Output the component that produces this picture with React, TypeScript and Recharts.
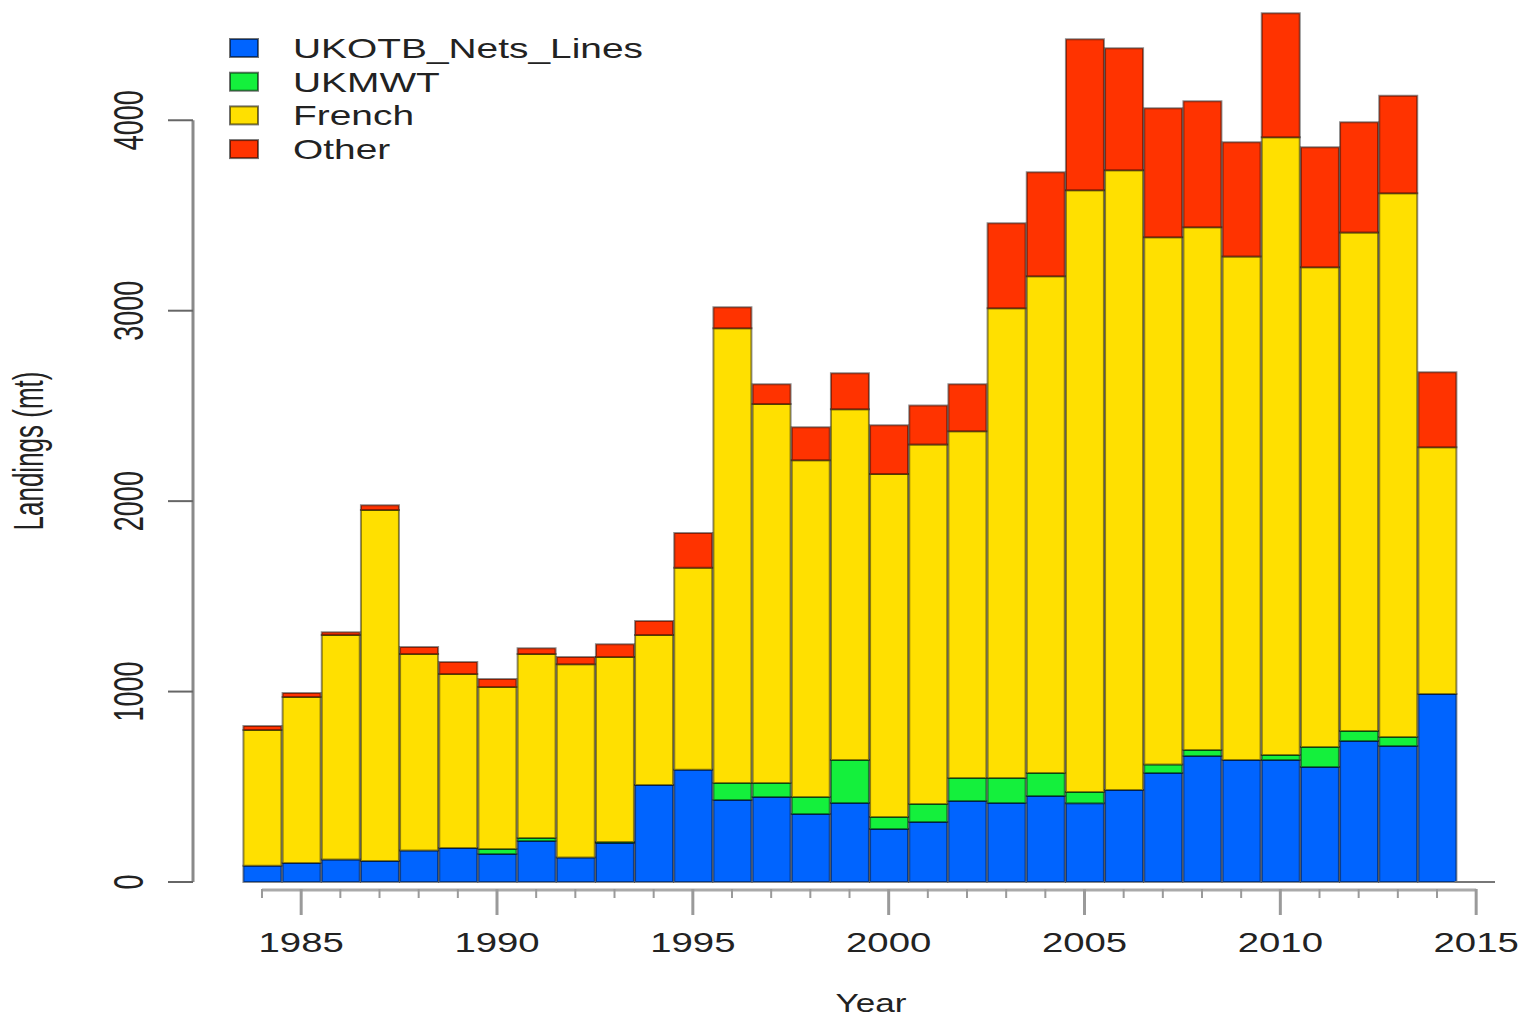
import React from 'react';
import { BarChart, Bar, XAxis, YAxis, ReferenceLine, Legend } from 'recharts';

// Annual landings (mt) by fleet
const years = [
    1984, 1985, 1986, 1987, 1988, 1989, 1990, 1991, 1992, 1993, 1994, 1995, 1996, 1997, 1998, 1999,
    2000, 2001, 2002, 2003, 2004, 2005, 2006, 2007, 2008, 2009, 2010, 2011, 2012, 2013, 2014,
];
const ukotbNetsLines = [
    85, 100, 118, 110, 165, 178, 147, 215, 128, 205, 509, 590, 430, 446, 357, 415,
    278, 315, 425, 415, 451, 413, 483, 572, 662, 640, 640, 604, 740, 714, 987,
];
const ukmwt = [
    0, 0, 0, 0, 0, 0, 26, 16, 0, 5, 0, 0, 90, 74, 89, 225,
    63, 94, 121, 131, 121, 59, 0, 45, 31, 0, 27, 105, 53, 47, 0,
];
const french = [
    713, 871, 1179, 1843, 1032, 914, 851, 966, 1016, 971, 788, 1060, 2388, 1990, 1769, 1843,
    1801, 1888, 1821, 2467, 2609, 3161, 3255, 2769, 2745, 2645, 3244, 2519, 2617, 2856, 1296,
];
const other = [
    21, 21, 15, 26, 37, 63, 42, 31, 37, 68, 73, 182, 110, 104, 173, 189,
    257, 205, 247, 446, 546, 792, 640, 677, 662, 599, 651, 630, 580, 512, 394,
];

const seriesKeys = ['ukotb', 'ukmwt', 'french', 'other'];
const seriesNames = ['UKOTB_Nets_Lines', 'UKMWT', 'French', 'Other'];
const seriesColors = ['#0064ff', '#14f03c', '#ffe000', '#ff3300'];

const yearTicks = [
    1984, 1985, 1986, 1987, 1988, 1989, 1990, 1991, 1992, 1993, 1994, 1995, 1996, 1997, 1998, 1999,
    2000, 2001, 2002, 2003, 2004, 2005, 2006, 2007, 2008, 2009, 2010, 2011, 2012, 2013, 2014, 2015,
];
const landingTicks = [0, 1000, 2000, 3000, 4000];

const data = years.map((year, i) => ({
    year,
    ukotb: ukotbNetsLines[i],
    ukmwt: ukmwt[i],
    french: french[i],
    other: other[i],
}));

const FONT = "'Liberation Sans', Arial, Helvetica, sans-serif";
const X_MIN = 1982.238;
const X_MAX = 2015.481;
// year axis sits a little below the zero line, as in base R
const AXIS_DROP = -42;

const YearTick = ({ x, y, payload }: any) => {
    const year = payload.value;
    const major = year % 5 === 0;
    return (
        <g>
            <line
                x1={x}
                x2={x}
                y1={y + 7}
                y2={y + (major ? 33 : 16)}
                stroke="#9a9a9a"
                strokeWidth={major ? 3 : 2}
            />
            {major && (
                <text
                    transform={`translate(${x},${y + 70}) scale(1.42,1)`}
                    textAnchor="middle"
                    fontSize={27}
                    fontFamily={FONT}
                    fill="#222"
                >
                    {year}
                </text>
            )}
        </g>
    );
};

const LandingTick = ({ x, y, payload }: any) => (
    <g>
        <line x1={x - 25} x2={x} y1={y} y2={y} stroke="#666" strokeWidth={2} />
        <text
            transform={`translate(${x - 50},${y}) scale(1.55,1) rotate(-90)`}
            textAnchor="middle"
            fontSize={27}
            fontFamily={FONT}
            fill="#222"
        >
            {payload.value}
        </text>
    </g>
);

const YearTitle = ({ viewBox }: any) => (
    <text
        transform={`translate(${viewBox.x + viewBox.width / 2 + 27},1012) scale(1.35,1)`}
        textAnchor="middle"
        fontSize={26}
        fontFamily={FONT}
        fill="#222"
    >
        Year
    </text>
);

const LandingsTitle = ({ viewBox }: any) => (
    <text
        transform={`translate(43,${viewBox.y + viewBox.height / 2 + 7}) scale(1.6,1) rotate(-90)`}
        textAnchor="middle"
        fontSize={26}
        fontFamily={FONT}
        fill="#222"
    >
        Landings (mt)
    </text>
);

const FleetLegend = () => (
    <svg width={700} height={180} style={{ display: 'block' }}>
        {seriesNames.map((name, i) => {
            const base = 58 + i * 33.7;
            return (
                <g key={name}>
                    <rect
                        x={230}
                        y={base - 19}
                        width={28}
                        height={18}
                        fill={seriesColors[i]}
                        stroke="#000"
                        strokeOpacity={0.55}
                        strokeWidth={2}
                    />
                    <text
                        transform={`translate(293,${base}) scale(1.44,1)`}
                        fontSize={27}
                        fontFamily={FONT}
                        fill="#222"
                    >
                        {name}
                    </text>
                </g>
            );
        })}
    </svg>
);

const App: React.FC = () => {
    return (
        <div style={{ position: 'absolute', left: 0, top: 0, width: 1523, height: 1021, background: '#fff' }}>
            <BarChart
                width={1523}
                height={1021}
                data={data}
                margin={{ top: 6, right: 28, bottom: 0, left: 0 }}
            >
                <XAxis
                    dataKey="year"
                    type="number"
                    domain={[X_MIN, X_MAX]}
                    ticks={yearTicks}
                    interval={0}
                    height={139}
                    axisLine={false}
                    tickLine={false}
                    tickSize={0}
                    tickMargin={0}
                    tick={<YearTick />}
                    label={YearTitle}
                />
                <YAxis
                    type="number"
                    domain={[0, 4600]}
                    ticks={landingTicks}
                    interval={0}
                    width={193}
                    axisLine={false}
                    tickLine={false}
                    tickSize={0}
                    tickMargin={0}
                    tick={<LandingTick />}
                    label={LandingsTitle}
                />
                <Legend
                    layout="horizontal"
                    verticalAlign="middle"
                    align="center"
                    wrapperStyle={{ left: 0, top: 0, width: 700, height: 180 }}
                    content={() => <FleetLegend />}
                />
                {seriesKeys.map((key, i) => (
                    <Bar
                        key={key}
                        dataKey={key}
                        name={seriesNames[i]}
                        stackId="landings"
                        fill={seriesColors[i]}
                        stroke="#000"
                        strokeOpacity={0.45}
                        strokeWidth={2}
                        barSize={38}
                        isAnimationActive={false}
                    />
                ))}
                <ReferenceLine
                    segment={[{ x: X_MIN, y: 0 }, { x: X_MIN, y: 4000 }]}
                    stroke="#8a8a8a"
                    strokeWidth={3}
                    ifOverflow="visible"
                />
                <ReferenceLine
                    segment={[{ x: 1984, y: AXIS_DROP }, { x: 2015, y: AXIS_DROP }]}
                    stroke="#aaa"
                    strokeWidth={3}
                    ifOverflow="visible"
                />
                <ReferenceLine
                    segment={[{ x: 2014.45, y: 0 }, { x: X_MAX, y: 0 }]}
                    stroke="#777"
                    strokeWidth={2}
                    ifOverflow="visible"
                />
            </BarChart>
        </div>
    );
};

export default App;
